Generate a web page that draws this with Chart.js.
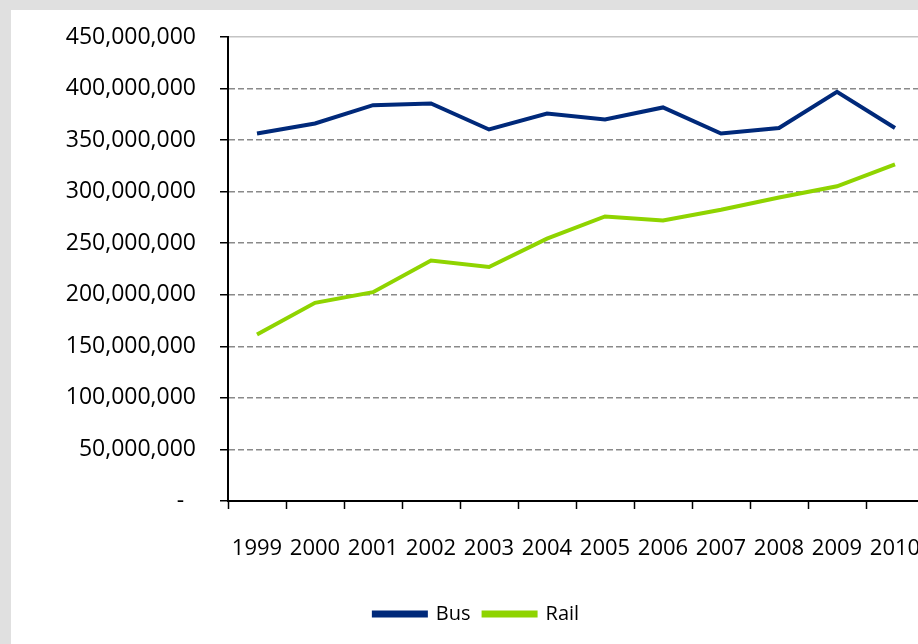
<!DOCTYPE html>
<html>
<head>
<meta charset="utf-8">
<script src="https://cdn.jsdelivr.net/npm/chart.js@4.4.0/dist/chart.umd.min.js"></script>
<style>
  html, body { margin: 0; padding: 0; width: 918px; height: 644px; overflow: hidden; background: #e0e0e0; }
  #panel { position: absolute; left: 11px; top: 10px; width: 930px; height: 634px; background: #fff; }
  #chart1 { display: block; }
</style>
</head>
<body>
<div id="panel"><canvas id="chart1" width="930" height="634"></canvas></div>
<script>
// years on the x axis
var years = ['1999', '2000', '2001', '2002', '2003', '2004', '2005', '2006', '2007', '2008', '2009', '2010'];
// boardings
var bus = [356400000, 366100000, 383900000, 385600000, 360300000, 375800000, 370000000, 381700000, 356400000, 361800000, 396800000, 361800000];
var rail = [161500000, 192200000, 202500000, 233200000, 227000000, 254500000, 276000000, 272000000, 282500000, 294400000, 305200000, 326500000];
var yMax = 450000000, yStep = 50000000;

var font = "'Open Sans', sans-serif";

new Chart(document.getElementById('chart1'), {
    type: 'line',
    data: {
        labels: years,
        datasets: [
            { label: 'Bus', data: bus, borderColor: '#00297a', backgroundColor: '#00297a', borderWidth: 4, pointRadius: 0, tension: 0 },
            { label: 'Rail', data: rail, borderColor: '#8fd400', backgroundColor: '#8fd400', borderWidth: 4, pointRadius: 0, tension: 0 }
        ]
    },
    options: {
        responsive: false,
        animation: false,
        devicePixelRatio: 1,
        layout: { padding: { left: 18, top: 27, right: 17, bottom: 10 } },
        plugins: {
            tooltip: { enabled: false },
            legend: {
                position: 'bottom',
                labels: {
                    color: '#000',
                    font: { family: font, size: 20 },
                    boxWidth: 52,
                    boxHeight: 3,
                    padding: 13
                }
            }
        },
        scales: {
            x: {
                offset: true,
                grid: { offset: true, drawOnChartArea: false, tickLength: 8, tickColor: '#000', tickWidth: 1.5 },
                border: { display: true, color: '#000', width: 2 },
                ticks: { color: '#000', font: { family: font, size: 22 }, padding: 27, maxRotation: 0, autoSkip: false },
                afterFit: function (scale) {
                    scale.height = 90;
                    // let the layout padding decide the sides
                    scale.paddingLeft = 0;
                    scale.paddingRight = 0;
                }
            },
            y: {
                min: 0,
                max: yMax,
                grid: {
                    color: function (ctx) { return ctx.tick && ctx.tick.value === yMax ? '#c4c4c4' : '#8a8a8a'; },
                    lineWidth: 1.5,
                    tickLength: 8,
                    tickColor: '#000',
                    tickWidth: 1.5
                },
                border: {
                    display: true, color: '#000', width: 2,
                    dash: function (ctx) { return ctx.tick && ctx.tick.value === yMax ? [] : [6, 3]; }
                },
                ticks: {
                    stepSize: yStep,
                    color: '#000',
                    font: { family: font, size: 23 },
                    padding: 24,
                    callback: function (v) { return v === 0 ? '-  ' : v.toLocaleString('en-US'); }
                },
                afterFit: function (scale) {
                    scale.width = 199;
                    scale.paddingTop = 0;
                    scale.paddingBottom = 0;
                }
            }
        }
    }
});
</script>
</body>
</html>
